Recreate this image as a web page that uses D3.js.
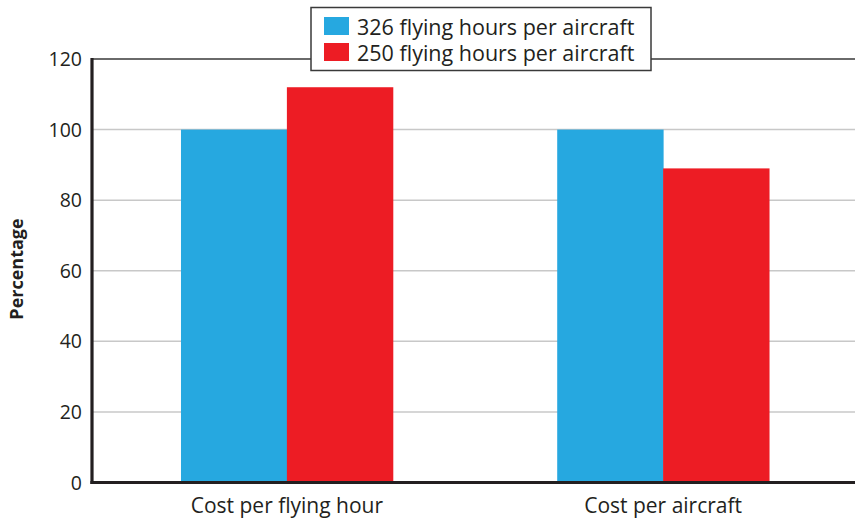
<!DOCTYPE html>
<html><head><meta charset="utf-8">
<script src="https://cdn.jsdelivr.net/npm/d3@7"></script>
<style>body{margin:0;background:#fff}svg{display:block}</style>
</head><body><svg id="c" width="855" height="520"></svg>
<script>
const categories = ["Cost per flying hour", "Cost per aircraft"];
const seriesNames = ["326 flying hours per aircraft", "250 flying hours per aircraft"];
const series326 = [100, 100];
const series250 = [112, 89];
const yTicks = [0, 20, 40, 60, 80, 100, 120];
const colors = ["#26a8e0", "#ed1c24"];

const svg = d3.select("#c");
const W = 855, plotLeft = 92, plotTop = 59, plotBottom = 482.5;
const font = "'Open Sans', sans-serif";
const ink = "#231f20";

const y = d3.scaleLinear().domain([0, 120]).range([plotBottom, plotTop]);
const x0 = d3.scaleBand().domain(categories).range([plotLeft, 858]).paddingInner(0.437).paddingOuter(0.2365);
const x1 = d3.scaleBand().domain([0, 1]).range([0, x0.bandwidth()]).padding(0);

// gridlines
svg.append("g").selectAll("line").data(yTicks.filter(d => d > 0 && d < 120)).join("line")
  .attr("x1", plotLeft).attr("x2", W).attr("y1", d => y(d)).attr("y2", d => y(d))
  .attr("stroke", "#c8c8c8").attr("stroke-width", 1.5);
// top line
svg.append("line").attr("x1", plotLeft).attr("x2", W).attr("y1", y(120)).attr("y2", y(120))
  .attr("stroke", "#6a6a6a").attr("stroke-width", 2);

// bars
const data = categories.map((c, i) => ({c, vals: [series326[i], series250[i]]}));
svg.append("g").selectAll("g").data(data).join("g")
  .attr("transform", d => `translate(${x0(d.c)},0)`)
  .selectAll("rect").data(d => d.vals.map((v, k) => ({v, k}))).join("rect")
  .attr("x", d => x1(d.k)).attr("width", x1.bandwidth() + 0.5)
  .attr("y", d => y(d.v)).attr("height", d => plotBottom - y(d.v))
  .attr("fill", d => colors[d.k]);

// axes
const yAxis = svg.append("g").attr("transform", `translate(${plotLeft},0)`)
  .call(d3.axisLeft(y).tickValues(yTicks).tickSize(0).tickPadding(10));
yAxis.select(".domain").remove();
yAxis.selectAll("text").attr("font-family", font).attr("font-size", 19.5).attr("fill", ink).attr("dy", "0.34em");
svg.append("line").attr("x1", plotLeft).attr("x2", plotLeft).attr("y1", plotTop - 1).attr("y2", plotBottom + 1.5)
  .attr("stroke", ink).attr("stroke-width", 3.2);

const xAxis = svg.append("g").attr("transform", `translate(0,${plotBottom})`)
  .call(d3.axisBottom(x0).tickSize(0).tickPadding(15.5));
xAxis.select(".domain").remove();
xAxis.selectAll("text").attr("font-family", font).attr("font-size", 21).attr("fill", ink);
svg.append("line").attr("x1", plotLeft - 1.6).attr("x2", W).attr("y1", plotBottom).attr("y2", plotBottom)
  .attr("stroke", ink).attr("stroke-width", 3.2);

// y title
svg.append("text").attr("transform", `translate(22.5,269) rotate(-90)`)
  .attr("text-anchor", "middle").attr("font-family", font).attr("font-weight", "bold")
  .attr("font-size", 18).attr("fill", ink).text("Percentage");

// legend
const lg = svg.append("g");
lg.append("rect").attr("x", 311).attr("y", 7.5).attr("width", 340).attr("height", 63)
  .attr("fill", "#fff").attr("stroke", "#3a3a3a").attr("stroke-width", 1.5);
seriesNames.forEach((n, i) => {
  lg.append("rect").attr("x", 324).attr("y", 17 + i * 26).attr("width", 25).attr("height", 18).attr("fill", colors[i]);
  lg.append("text").attr("x", 357).attr("y", 34.5 + i * 26.2)
    .attr("font-family", font).attr("font-size", 21.5).attr("fill", ink).text(n);
});
</script></body></html>
